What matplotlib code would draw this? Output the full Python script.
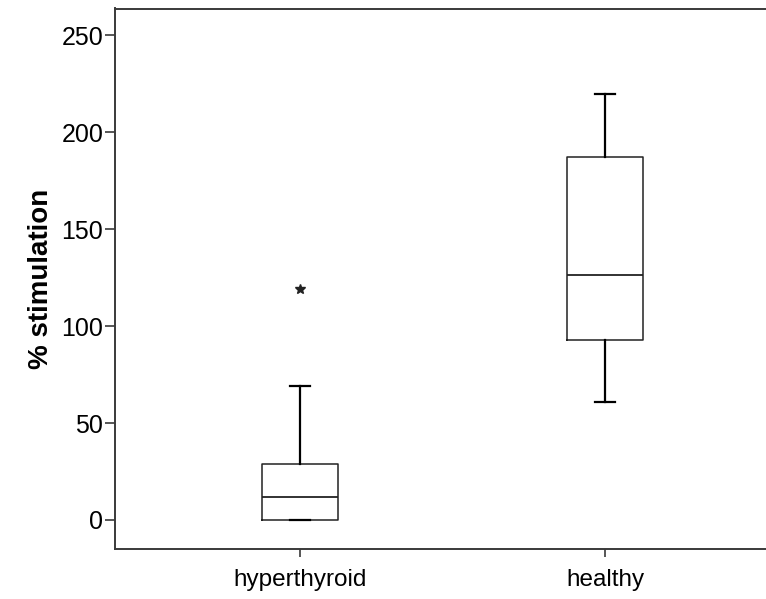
import matplotlib
matplotlib.use("Agg")
import matplotlib.pyplot as plt

plt.rcParams['font.family'] = ['Liberation Sans', 'DejaVu Sans']

groups = ['hyperthyroid', 'healthy']
lower_whisker = [0, 61]
q1 = [0, 93]
median = [12, 126.5]
q3 = [29, 187]
upper_whisker = [69, 219.5]
outliers = [[119], []]

yticks = [0, 50, 100, 150, 200, 250]

stats = []
for i, g in enumerate(groups):
    stats.append({'label': g, 'whislo': lower_whisker[i], 'q1': q1[i],
                  'med': median[i], 'q3': q3[i], 'whishi': upper_whisker[i],
                  'fliers': outliers[i]})

fig = plt.figure(figsize=(7.66, 5.99), dpi=100)
ax = fig.add_axes([115 / 766, 1 - 548.5 / 599, 1 - 115 / 766, (548.5 - 8.5) / 599])

line_col = '#222222'
ax.bxp(stats, positions=[1, 2], widths=0.25, capwidths=0.065,
       boxprops=dict(color=line_col, linewidth=1.1),
       medianprops=dict(color=line_col, linewidth=1.3),
       whiskerprops=dict(color='black', linewidth=1.6),
       capprops=dict(color='black', linewidth=1.6),
       flierprops=dict(marker='*', markersize=7, markerfacecolor='#222222',
                       markeredgecolor='#222222', linestyle='none'))

ax.set_xlim(0.395, 2.527)
ax.set_ylim(-14.7, 263.7)
ax.set_yticks(yticks)
ax.set_xticks([1, 2])
ax.set_xticklabels(groups)

for s in ['left', 'bottom', 'top']:
    ax.spines[s].set_color('#3a3a3a')
    ax.spines[s].set_linewidth(1.4)
ax.spines['right'].set_visible(False)

ax.tick_params(axis='both', colors='#3a3a3a', labelcolor='black', width=1.2)
ax.tick_params(axis='y', labelsize=18, length=7, pad=1.5)
ax.tick_params(axis='x', labelsize=17.5, length=6, pad=8.5)

ax.set_ylabel('% stimulation', fontsize=20, fontweight='bold', labelpad=5)

fig.savefig('out.png', dpi=100)
